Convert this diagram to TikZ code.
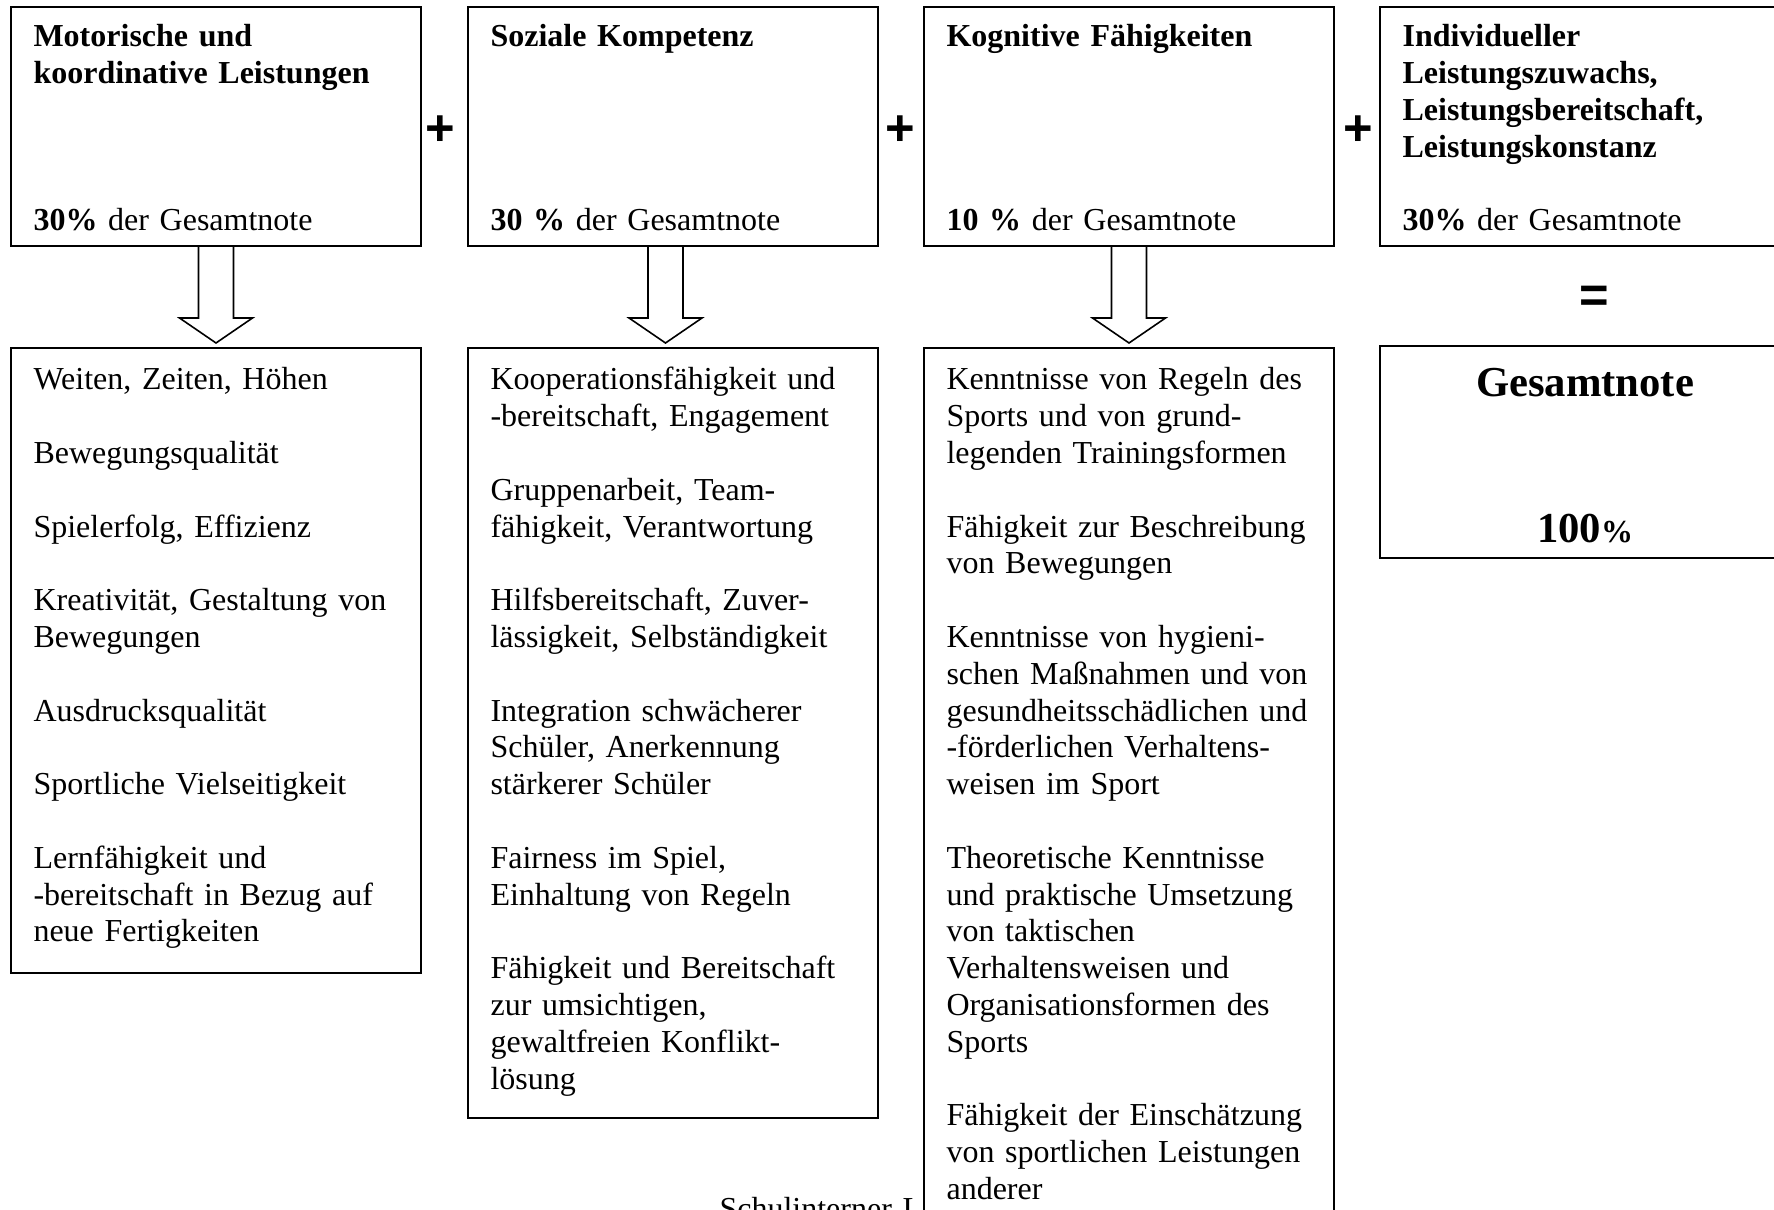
\documentclass[tikz,border=0pt]{standalone}
\usepackage{fontspec}
\setmainfont{Liberation Serif}
\newfontfamily\signfont{Liberation Sans}
\frenchspacing

\begin{document}
\begin{tikzpicture}[
    x=0.375pt, y=-0.375pt,
    box/.style={draw, line width=0.6pt, fill=white, inner sep=0pt, outer sep=0pt, anchor=north west, minimum width=153.75pt},
    txt/.style={anchor=base west, inner sep=0pt, text width=142pt, align=left, font=\fontsize{12}{13.8}\selectfont},
    sign/.style={inner sep=0pt, font=\signfont\bfseries\fontsize{19}{19}\selectfont},
    pics/downarr/.style={code={
        \draw[line width=0.6pt, fill=white] (-17.5,0) -- (-17.5,72) -- (-36.5,72) -- (0,97) -- (36.5,72) -- (17.5,72) -- (17.5,0) -- cycle;}}
]
\useasboundingbox (0,0) rectangle (1774,1210);
\clip (0,0) rectangle (1774,1210);

\node[box, minimum height=89.625pt] (motor) at (11,7) {};
\node[box, minimum height=89.625pt] (sozial) at (468,7) {};
\node[box, minimum height=89.625pt] (kogn) at (924,7) {};
\node[box, minimum height=89.625pt] (indiv) at (1380,7) {};

\node[txt] (motor-t) at ([shift={(22,40)}]motor.north west)
    {\textbf{Motorische und}\\\textbf{koordinative Leistungen}\\[41.4pt]\textbf{30\%} der Gesamtnote};
\node[txt] (sozial-t) at ([shift={(22,40)}]sozial.north west)
    {\textbf{Soziale Kompetenz}\\[55.2pt]\textbf{30 \%} der Gesamtnote};
\node[txt] (kogn-t) at ([shift={(22,40)}]kogn.north west)
    {\textbf{Kognitive Fähigkeiten}\\[55.2pt]\textbf{10 \%} der Gesamtnote};
\node[txt] (indiv-t) at ([shift={(22,40)}]indiv.north west)
    {\textbf{Individueller}\\\textbf{Leistungszuwachs,}\\\textbf{Leistungsbereitschaft,}\\\textbf{Leistungskonstanz}\\[13.8pt]\textbf{30\%} der Gesamtnote};

\node[sign] (plus1) at (440,131) {+};
\node[sign] (plus2) at (900,131) {+};
\node[sign] (plus3) at (1358,131) {+};
\node[sign] (gleich) at (1594,299) {=};

\node[txt] (fuss) at (719,1219) {Schulinterner Le};

\node[box, minimum height=234.375pt] (motor-l) at (11,348) {};
\node[box, minimum height=288.75pt] (sozial-l) at (468,348) {};
\node[box, minimum height=333.75pt] (kogn-l) at (924,348) {};
\node[box, minimum height=79.5pt] (gesamt) at (1380,346) {};

\pic at (motor.south) {downarr};
\pic at ([shift={(-7.5,0)}]sozial.south) {downarr};
\pic at (kogn.south) {downarr};

\node[txt] (motor-lt) at ([shift={(22,42)}]motor-l.north west)
    {Weiten, Zeiten, Höhen\\[13.8pt]
     Bewegungsqualität\\[13.8pt]
     Spielerfolg, Effizienz\\[13.8pt]
     Kreativität, Gestaltung von\\Bewegungen\\[13.8pt]
     Ausdrucksqualität\\[13.8pt]
     Sportliche Vielseitigkeit\\[13.8pt]
     Lernfähigkeit und\\-bereitschaft in Bezug auf\\neue Fertigkeiten};
\node[txt] (sozial-lt) at ([shift={(22,42)}]sozial-l.north west)
    {Kooperationsfähigkeit und\\-bereitschaft, Engagement\\[13.8pt]
     Gruppenarbeit, Team-\\fähigkeit, Verantwortung\\[13.8pt]
     Hilfsbereitschaft, Zuver-\\lässigkeit, Selbständigkeit\\[13.8pt]
     Integration schwächerer\\Schüler, Anerkennung\\stärkerer Schüler\\[13.8pt]
     Fairness im Spiel,\\Einhaltung von Regeln\\[13.8pt]
     Fähigkeit und Bereitschaft\\zur umsichtigen,\\gewaltfreien Konflikt-\\lösung};
\node[txt] (kogn-lt) at ([shift={(22,42)}]kogn-l.north west)
    {Kenntnisse von Regeln des\\Sports und von grund-\\legenden Trainingsformen\\[13.8pt]
     Fähigkeit zur Beschreibung\\von Bewegungen\\[13.8pt]
     Kenntnisse von hygieni-\\schen Maßnahmen und von\\gesundheitsschädlichen und\\-förderlichen Verhaltens-\\weisen im Sport\\[13.8pt]
     Theoretische Kenntnisse\\und praktische Umsetzung\\von taktischen\\Verhaltensweisen und\\Organisationsformen des\\Sports\\[13.8pt]
     Fähigkeit der Einschätzung\\von sportlichen Leistungen\\anderer};

\node[anchor=base, inner sep=0pt, font=\bfseries\fontsize{16}{18.4}\selectfont] (gesamt-t) at ([shift={(0,51)}]gesamt.north) {Gesamtnote};
\node[anchor=base, inner sep=0pt, font=\bfseries\fontsize{16}{18.4}\selectfont] (gesamt-p) at ([shift={(0,197)}]gesamt.north) {100{\fontsize{12}{14}\selectfont\%}};
\end{tikzpicture}
\end{document}
